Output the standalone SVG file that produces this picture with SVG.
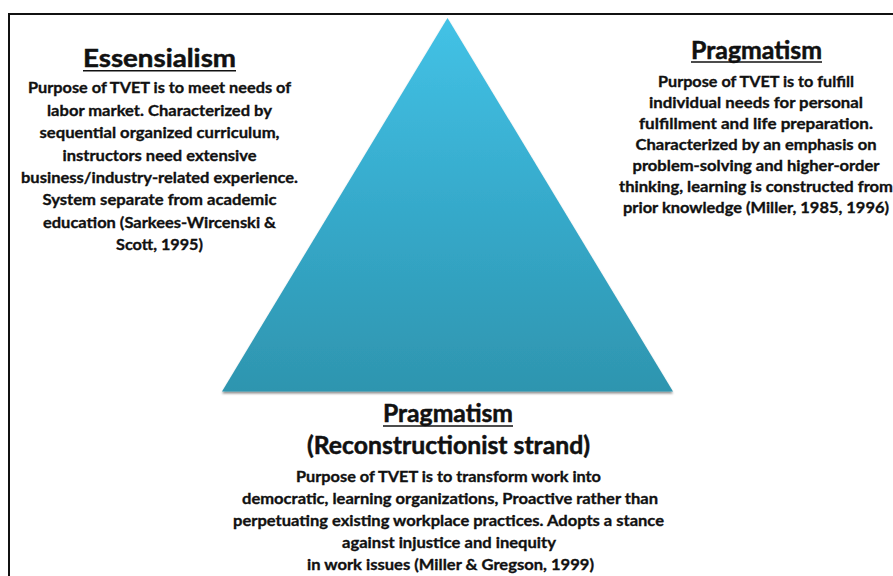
<svg xmlns="http://www.w3.org/2000/svg" width="893" height="576" viewBox="0 0 893 576">
  <defs>
    <linearGradient id="pyramidFill" x1="0" y1="0" x2="0" y2="1">
      <stop offset="0" stop-color="#43c2e6"/>
      <stop offset="0.5" stop-color="#36aacb"/>
      <stop offset="1" stop-color="#2e95af"/>
    </linearGradient>
    <filter id="baseShadow" x="-10%" y="-10%" width="120%" height="130%">
      <feGaussianBlur in="SourceAlpha" stdDeviation="1.2"/>
      <feOffset dx="0" dy="1.5" result="blur"/>
      <feComponentTransfer><feFuncA type="linear" slope="0.45"/></feComponentTransfer>
      <feMerge><feMergeNode/><feMergeNode in="SourceGraphic"/></feMerge>
    </filter>
  </defs>
  <style>
    .frame { fill: none; stroke: #111; stroke-width: 2; }
    text { font-family: Lato, "Liberation Sans", sans-serif; font-weight: bold; fill: #111; stroke: #111; stroke-width: 0.35; text-anchor: middle; }
    .head { font-size: 24px; stroke-width: 0.5; }
    .body { font-size: 16px; }
    .rule { stroke: #111; stroke-width: 1.6; }
  </style>

  <rect width="893" height="576" fill="#ffffff"/>
  <!-- slide frame: only top and left edges fall inside the canvas -->
  <path class="frame" d="M9 577 V14 H894"/>

  <g id="pyramid">
    <polygon points="447.5,18 222,391.5 673,391.5" fill="url(#pyramidFill)" filter="url(#baseShadow)"/>
  </g>

  <g id="connectors"/>

  <g id="node-essensialism">
    <text class="head" x="159.5" y="66.5" textLength="153" lengthAdjust="spacingAndGlyphs">Essensialism</text>
    <line class="rule" x1="83" y1="70.8" x2="236" y2="70.8"/>
    <text class="body" x="159.5" y="93.3" textLength="263" lengthAdjust="spacingAndGlyphs">Purpose of TVET is to meet needs of</text>
    <text class="body" x="159.5" y="115.7" textLength="225" lengthAdjust="spacingAndGlyphs">labor market. Characterized by</text>
    <text class="body" x="159.5" y="138.1" textLength="240" lengthAdjust="spacingAndGlyphs">sequential organized curriculum,</text>
    <text class="body" x="159.5" y="160.5" textLength="194" lengthAdjust="spacingAndGlyphs">instructors need extensive</text>
    <text class="body" x="159.5" y="182.9" textLength="277" lengthAdjust="spacingAndGlyphs">business/industry-related experience.</text>
    <text class="body" x="159.5" y="205.3" textLength="234" lengthAdjust="spacingAndGlyphs">System separate from academic</text>
    <text class="body" x="159.5" y="227.7" textLength="233" lengthAdjust="spacingAndGlyphs">education (Sarkees-Wircenski &amp;</text>
    <text class="body" x="159.5" y="250" textLength="87" lengthAdjust="spacingAndGlyphs">Scott, 1995)</text>
  </g>

  <g id="node-pragmatism">
    <text class="head" x="756.5" y="58.5" textLength="131" lengthAdjust="spacingAndGlyphs">Pragmatism</text>
    <line class="rule" x1="691" y1="62" x2="822" y2="62"/>
    <text class="body" x="756" y="86.7" textLength="196" lengthAdjust="spacingAndGlyphs">Purpose of TVET is to fulfill</text>
    <text class="body" x="756" y="107.8" textLength="214" lengthAdjust="spacingAndGlyphs">individual needs for personal</text>
    <text class="body" x="756" y="128.9" textLength="234" lengthAdjust="spacingAndGlyphs">fulfillment and life preparation.</text>
    <text class="body" x="756" y="150" textLength="241" lengthAdjust="spacingAndGlyphs">Characterized by an emphasis on</text>
    <text class="body" x="756" y="171.1" textLength="247" lengthAdjust="spacingAndGlyphs">problem-solving and higher-order</text>
    <text class="body" x="756" y="192.2" textLength="274" lengthAdjust="spacingAndGlyphs">thinking, learning is constructed from</text>
    <text class="body" x="756" y="213.3" textLength="266" lengthAdjust="spacingAndGlyphs">prior knowledge (Miller, 1985, 1996)</text>
  </g>

  <g id="node-reconstructionist">
    <text class="head" x="448" y="421.7" textLength="130" lengthAdjust="spacingAndGlyphs">Pragmatism</text>
    <line class="rule" x1="383" y1="426" x2="513" y2="426"/>
    <text class="head" x="448.5" y="454" textLength="283" lengthAdjust="spacingAndGlyphs">(Reconstructionist strand)</text>
    <text class="body" x="448.5" y="481.7" textLength="305" lengthAdjust="spacingAndGlyphs">Purpose of TVET is to transform work into</text>
    <text class="body" x="450" y="503.8" textLength="416" lengthAdjust="spacingAndGlyphs">democratic, learning organizations, Proactive rather than</text>
    <text class="body" x="448.5" y="525.9" textLength="431" lengthAdjust="spacingAndGlyphs">perpetuating existing workplace practices. Adopts a stance</text>
    <text class="body" x="449" y="548" textLength="214" lengthAdjust="spacingAndGlyphs">against injustice and inequity</text>
    <text class="body" x="450.5" y="570" textLength="287" lengthAdjust="spacingAndGlyphs">in work issues (Miller &amp; Gregson, 1999)</text>
  </g>
</svg>
